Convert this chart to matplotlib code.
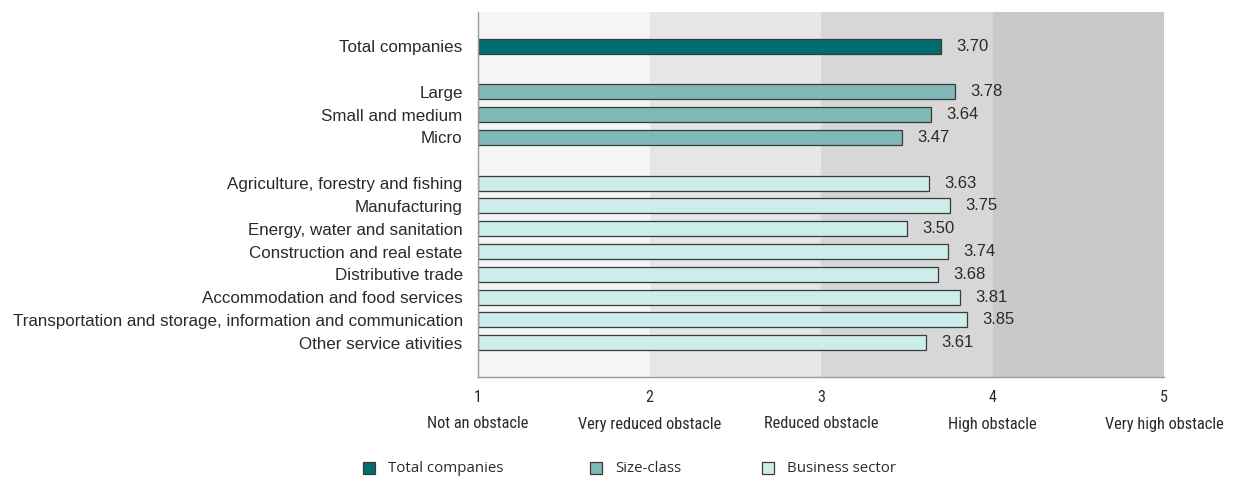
import matplotlib.pyplot as plt
from matplotlib.patches import Rectangle
from matplotlib import transforms, font_manager

def first_available(names, default="DejaVu Sans"):
    installed = {f.name for f in font_manager.fontManager.ttflist}
    for n in names:
        if n in installed:
            return n
    return default

SANS = first_available(["Liberation Sans", "Arimo", "Arial"])
NARROW = first_available(["Liberation Sans Narrow", "Arial Narrow", "Roboto Condensed"], SANS)
LEGEND_FONT = first_available(["Open Sans", "Noto Sans"], SANS)
plt.rcParams['font.family'] = [SANS, 'DejaVu Sans']

# Rows from top to bottom; None marks a blank separator row
categories = [
    "Total companies",
    None,
    "Large",
    "Small and medium",
    "Micro",
    None,
    "Agriculture, forestry and fishing",
    "Manufacturing",
    "Energy, water and sanitation",
    "Construction and real estate",
    "Distributive trade",
    "Accommodation and food services",
    "Transportation and storage, information and communication",
    "Other service ativities",
]
values = [3.70, None, 3.78, 3.64, 3.47, None,
          3.63, 3.75, 3.50, 3.74, 3.68, 3.81, 3.85, 3.61]
groups = ["total", None, "size", "size", "size", None,
          "sector", "sector", "sector", "sector", "sector", "sector", "sector", "sector"]

group_names = {"total": "Total companies", "size": "Size-class", "sector": "Business sector"}
group_colors = {"total": "#006e6e", "size": "#80b8b8", "sector": "#ccede9"}

scale_ticks = [1, 2, 3, 4, 5]
scale_labels = ["Not an obstacle", "Very reduced obstacle", "Reduced obstacle",
                "High obstacle", "Very high obstacle"]
band_colors = ["#f5f5f5", "#e6e6e6", "#d7d7d7", "#c9c9c9"]

W, H = 1240, 480
fig = plt.figure(figsize=(W / 100, H / 100), dpi=100)
ax = fig.add_axes([478 / W, 1 - 377 / H, 686 / W, 365 / H])

# shaded background bands for each step of the scale
for lo, hi, c in zip(scale_ticks[:-1], scale_ticks[1:], band_colors):
    ax.axvspan(lo, hi, color=c, zorder=0, lw=0)

for i, (v, g) in enumerate(zip(values, groups)):
    if v is None:
        continue
    ax.barh(i, v - 1, left=1, height=0.66, color=group_colors[g],
            edgecolor="#3a3a3a", linewidth=0.9, zorder=2)
    ax.text(v + 0.09, i, f"{v:.2f}", va="center", ha="left",
            fontsize=12, color="#2a2a2a", zorder=3)

ax.set_xlim(1, 5)
ax.set_ylim(len(categories) + 0.5, -1.5)
ax.set_yticks([i for i, c in enumerate(categories) if c is not None])
ax.set_yticklabels([c for c in categories if c is not None], fontsize=12.25, color="#2a2a2a")
ax.set_xticks(scale_ticks)
ax.set_xticklabels([str(t) for t in scale_ticks], fontsize=11.5, color="#2a2a2a",
                   family=[NARROW, SANS])
ax.tick_params(axis="both", length=0)
ax.tick_params(axis="x", pad=9)
ax.tick_params(axis="y", pad=11)

for side in ["top", "right"]:
    ax.spines[side].set_visible(False)
for side in ["left", "bottom"]:
    ax.spines[side].set_color("#9a9a9a")
    ax.spines[side].set_linewidth(1.0)

# verbal descriptions of the scale below the numeric ticks
trans = transforms.blended_transform_factory(ax.transData, fig.transFigure)
for t, lab in zip(scale_ticks, scale_labels):
    ax.text(t, 1 - 424 / H, lab, transform=trans, ha="center", va="center",
            fontsize=11.8 if NARROW != SANS else 9.5, color="#2a2a2a",
            family=[NARROW, SANS])

# legend row: small outlined squares followed by their labels
legend_x = [363, 590, 762]
for k, x0 in zip(["total", "size", "sector"], legend_x):
    fig.patches.append(Rectangle((x0 / W, 1 - 474 / H), 12 / W, 12 / H,
                                 transform=fig.transFigure, facecolor=group_colors[k],
                                 edgecolor="#3a3a3a", linewidth=0.9))
    fig.text((x0 + 25) / W, 1 - 468 / H, group_names[k], ha="left", va="center",
             fontsize=10.8, color="#2a2a2a", family=[LEGEND_FONT, SANS])

fig.savefig("out.png", dpi=100)
